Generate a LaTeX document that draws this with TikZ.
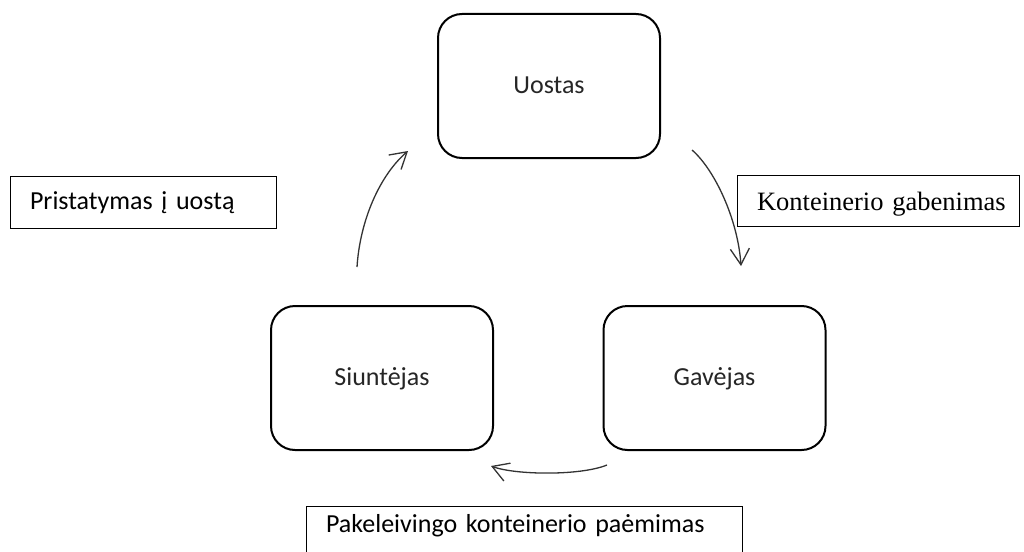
\documentclass[tikz,border=0pt]{standalone}
\usepackage{fontspec}
\setmainfont{Carlito}
\newfontfamily\timesfont{Liberation Serif}
\usetikzlibrary{arrows.meta}
\begin{document}
\begin{tikzpicture}[x=1pt,y=-1pt,
  stage/.style={draw=black, line width=2pt, rounded corners=24pt,
    minimum width=222pt, minimum height=144pt, inner sep=0pt,
    font=\fontsize{26}{30}\selectfont, text=black!85,
    text height=16pt, text depth=1pt},
  lbl/.style={draw=black, line width=0.9pt, inner ysep=0pt, inner xsep=20pt,
    align=left, font=\fontsize{26}{30}\selectfont, text=black},
  flow/.style={draw=black!80, line width=1.3pt,
    -{Straight Barb[length=16pt,width=19pt]}}
]
\clip (0,0) rectangle (1024,551);
\fill[white] (0,0) rectangle (1024,551);

\node[stage] (uostas) at (549,86) {Uostas};
\node[stage] (siunt) at (382,378) {Siuntėjas};
\node[stage] (gav) at (714.5,378) {Gavėjas};

\node[lbl, minimum height=52pt, text width=226pt, text height=20pt, text depth=6pt]
  (pristat) at (143,202) {\mbox{Pristatymas į uostą}};
\node[lbl, minimum height=51pt, text width=242pt, text height=22pt, text depth=3pt,
  font=\timesfont\fontsize{26.5}{30}\selectfont]
  (gaben) at (878,200.5) {\mbox{Konteinerio gabenimas}};
\node[lbl, minimum height=60pt, text width=396pt, text height=18pt, text depth=26pt]
  (paem) at (524,536) {\mbox{Pakeleivingo konteinerio paėmimas}};

\coordinate (a1s) at (357,267);
\coordinate (a1e) at (408,151);
\coordinate (a2s) at (692,150);
\coordinate (a2e) at (741,266);
\coordinate (a3s) at (607,465);
\coordinate (a3e) at (491,466);

\draw[flow] (a1s) .. controls (360,220) and (380,175) .. (a1e);
\draw[flow] (a2s) .. controls (715,170) and (738,220) .. (a2e);
\draw[flow] (a3s) .. controls (580,476) and (515,475) .. (a3e);
\end{tikzpicture}
\end{document}
